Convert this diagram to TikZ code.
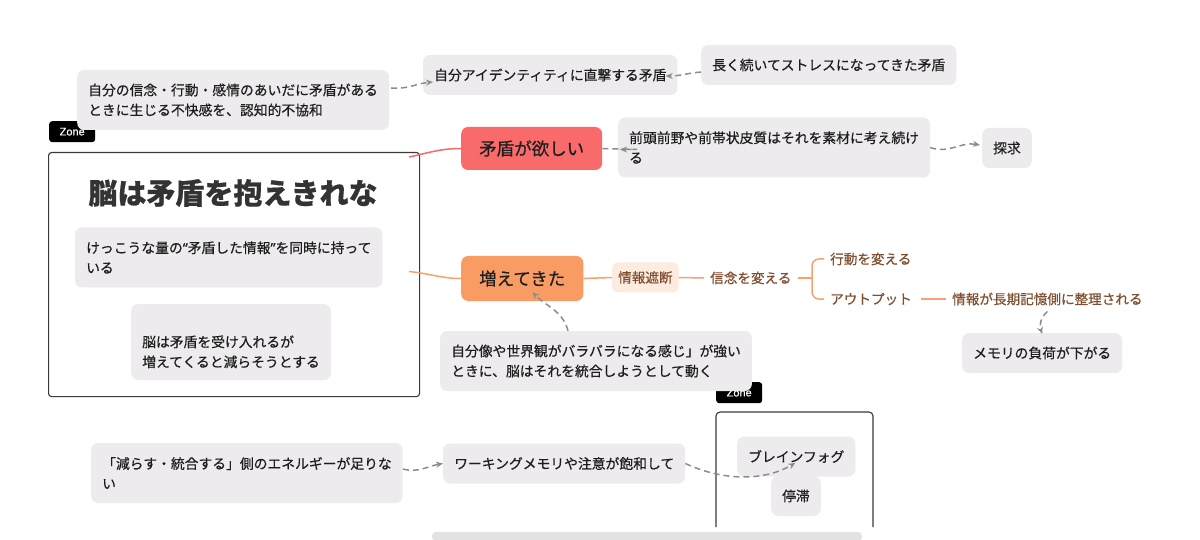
\documentclass[tikz,border=0pt]{standalone}
\usepackage{fontspec}
\setmainfont{Noto Sans CJK JP}[FakeBold=0.5]
\newfontfamily\zonefont{Liberation Sans}[FakeBold=0.6]
\newfontfamily\qfont{Noto Sans}[FakeBold=0.5]
\usetikzlibrary{arrows.meta,calc}
\definecolor{boxgray}{HTML}{EDEBED}
\definecolor{txt}{HTML}{1E1E1E}
\definecolor{titlec}{HTML}{333333}
\definecolor{redfill}{HTML}{F96B6B}
\definecolor{orfill}{HTML}{F99C64}
\definecolor{lorfill}{HTML}{FDEBE0}
\definecolor{brown}{HTML}{7F4F2F}
\definecolor{orline}{HTML}{F5A26E}
\definecolor{redline}{HTML}{F26A6A}
\definecolor{dashgray}{HTML}{8C8C8C}
\definecolor{framec}{HTML}{3A3A3A}
\definecolor{scrollc}{HTML}{E2E2E2}
\tikzset{
  gbox/.style={fill=boxgray, rounded corners=7pt, inner xsep=11pt, inner ysep=0pt,
    minimum height=40pt, font=\fontsize{13.8}{20}\selectfont, text=txt, align=left, anchor=west},
  twoline/.style={minimum height=60pt},
  mainnode/.style={rounded corners=7pt, inner xsep=18pt, inner ysep=0pt, minimum height=44pt,
    font=\fontsize{17.5}{20}\selectfont, text=txt, anchor=west},
  branchtxt/.style={inner xsep=6pt, inner ysep=2pt, font=\fontsize{13.6}{16}\selectfont, text=brown, anchor=west},
  zonelabel/.style={fill=black, rounded corners=3pt, text=white, font=\zonefont\fontsize{11}{12}\selectfont,
    minimum width=46pt, minimum height=21pt, inner sep=0pt, anchor=north west},
  zoneline/.style={draw=framec, line width=1.1pt, rounded corners=4pt},
  dcon/.style={draw=dashgray, line width=1.5pt, dash pattern=on 6pt off 4pt, -{Stealth[length=7pt,width=6pt]}},
  oline/.style={draw=orline, line width=1.5pt},
  rline/.style={draw=redline, line width=1.5pt},
}
\begin{document}
\begin{tikzpicture}[x=1pt,y=1pt]
\useasboundingbox (0,0) rectangle (1200,-540);
\fill[white] (0,0) rectangle (1200,-540);

% zone 1
\node[zoneline, minimum width=371pt, minimum height=244pt, anchor=north west, inner sep=0pt, rounded corners=3pt] (Z1) at (48,-152) {};
\node[zonelabel] (ZL1) at (49,-121) {\raisebox{-2pt}{Zone}};
% zone 2
\draw[zoneline] (716,-527) -- (716,-412) -- (873,-412) -- (873,-527);
\node[zonelabel] (ZL2) at (716,-382) {\raisebox{-3pt}{Zone}};

% title
\node[font=\fontsize{29}{32}\selectfont\bfseries, text=titlec] (T) at (233,-193) {脳は矛盾を抱えきれな};

% boxes
\node[gbox, twoline] (A) at (77,-100) {自分の信念・行動・感情のあいだに矛盾がある\\ときに生じる不快感を、認知的不協和};
\node[gbox] (D) at (423,-75) {自分アイデンティティに直撃する矛盾};
\node[gbox] (E) at (701,-65) {長く続いてストレスになってきた矛盾};
\node[gbox, twoline] (F) at (618,-147.5) {前頭前野や前帯状皮質はそれを素材に考え続け\\る};
\node[gbox] (G) at (982,-148) {探求};
\node[gbox, twoline] (B) at (75,-257.5) {けっこうな量の{\qfont “}矛盾した情報{\qfont ”}を同時に持って\\いる};
\node[gbox, minimum height=76pt] (C) at (131,-342) {\vphantom{脳}\\脳は矛盾を受け入れるが\\増えてくると減らそうとする};
\node[gbox, twoline] (I) at (440,-361) {自分像や世界観がバラバラになる感じ」が強い\\ときに、脳はそれを統合しようとして動く};
\node[gbox] (H) at (962,-353) {メモリの負荷が下がる};
\node[gbox, twoline] (L) at (91,-473) {「減らす・統合する」側のエネルギーが足りな\\い};
\node[gbox] (M) at (443,-463.5) {ワーキングメモリや注意が飽和して};
\node[gbox] (J) at (737,-456.5) {ブレインフォグ};
\node[gbox] (K) at (771,-496) {停滞};

% main nodes
\node[mainnode, fill=redfill, minimum height=43pt] (R) at (461,-148.5) {矛盾が欲しい};
\node[mainnode, fill=orfill, minimum height=45pt] (O) at (461,-278.5) {増えてきた};

% branch
\node[fill=lorfill, rounded corners=6pt, inner xsep=6pt, inner ysep=0pt, minimum height=30pt,
  font=\fontsize{13.6}{16}\selectfont, text=brown, anchor=west] (KB) at (612,-277.5) {情報遮断};
\node[branchtxt] (BE) at (704,-278) {信念を変える};
\node[branchtxt] (KD) at (824,-259) {行動を変える};
\node[branchtxt] (OUT) at (824,-299) {アウトプット};
\node[branchtxt] (LT) at (946,-299) {情報が長期記憶側に整理される};
\coordinate (br) at (812,-278);

% connectors: solid
\draw[rline] ([xshift=-11pt,yshift=-5pt]Z1.north east) to[out=12,in=180] (R.west);
\draw[oline] ([xshift=-11pt,yshift=3pt]Z1.east) to[out=-5,in=180] (O.west);
\draw[oline] (O.east) -- (KB.west);
\draw[oline] (KB.east) -- (BE.west);
\draw[oline] (BE.east) -- (br);
\draw[oline, rounded corners=7pt] (KD.west) -| (br) -- (br |- OUT.west) -- (OUT.west);
\draw[oline] ([xshift=3pt]OUT.east) -- (LT.west);

% connectors: dashed
\draw[dcon] ([xshift=2pt,yshift=12pt]A.east) to[out=-5,in=185] ([xshift=10pt,yshift=-7pt]D.west);
\draw[dcon] ([yshift=-7pt]E.west) to[out=185,in=0] ([xshift=-12pt,yshift=-1pt]D.east);
\draw[dcon] (R.east) -- ([xshift=19pt,yshift=-2pt]F.west) -- ([xshift=2pt,yshift=-2pt]F.west);
\draw[dcon] (F.east) to[out=-20,in=170] ([xshift=-2pt,yshift=3pt]G.west);
\draw[dcon] ([xshift=-28pt]I.north) to[out=105,in=-45] ([xshift=10pt,yshift=9pt]O.south);
\draw[dcon] ([yshift=-4pt]LT.south) to[out=220,in=110] ([yshift=-1pt]H.north);
\draw[dcon] ([yshift=4pt]L.east) to[out=-15,in=190] (M.west);
\draw[dcon] (M.east) to[out=-25,in=-150,looseness=0.9] ([xshift=-1pt,yshift=-6.5pt]J.center);

% scrollbar
\fill[scrollc, rounded corners=4pt] (432,-532) rectangle (862,-541);
\end{tikzpicture}
\end{document}
